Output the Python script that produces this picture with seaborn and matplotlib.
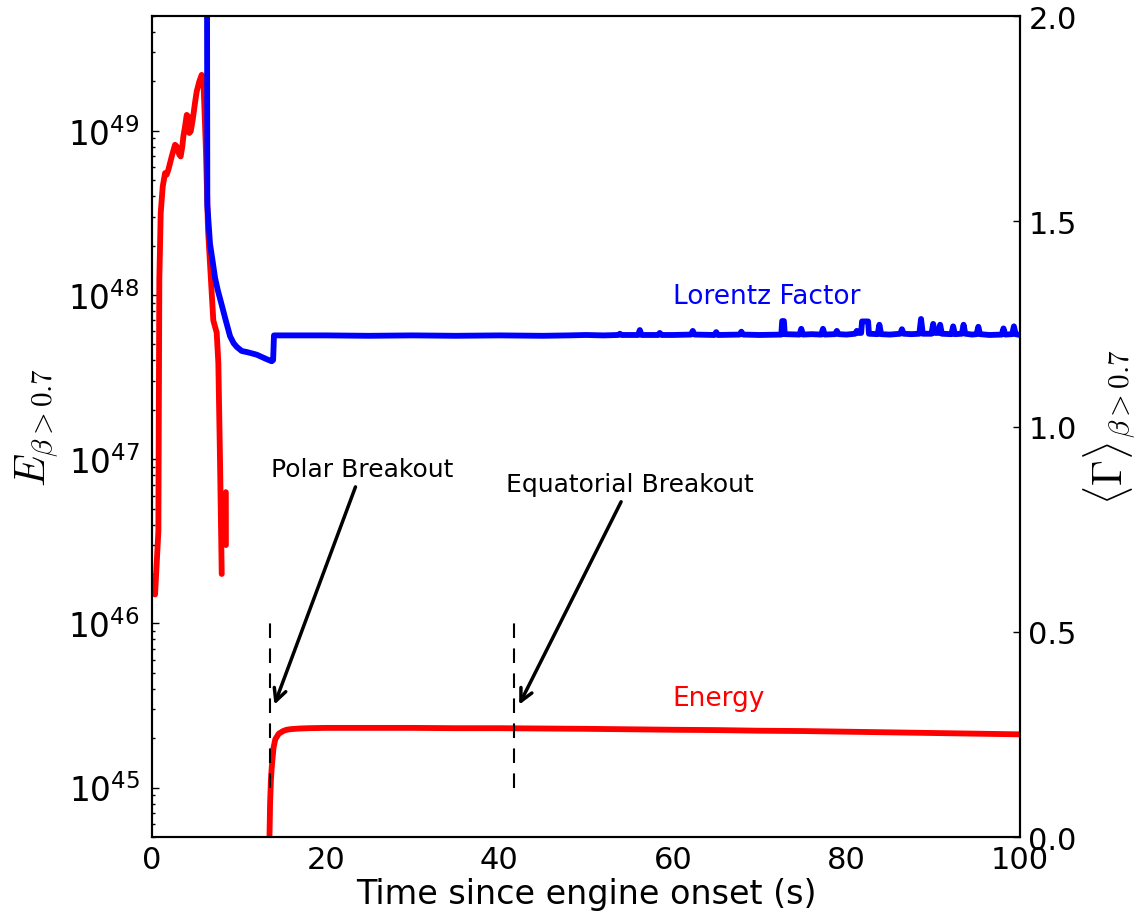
import seaborn as sns
import matplotlib.pyplot as plt

# energy in material with beta > 0.7 (erg), first burst from the engine
t_burst = [0.35, 0.73, 0.84, 1.00, 1.23, 1.50, 1.69, 1.88, 2.27, 2.65, 2.84, 3.14,
           3.30, 3.49, 3.61, 3.80, 4.00, 4.18, 4.30, 4.46, 4.69, 4.95, 5.15, 5.45,
           5.72, 5.91, 6.20, 6.45, 6.68, 7.06, 7.45, 7.64, 7.83, 8.03]
e_burst = [1.50e46, 3.63e46, 1.24e48, 3.16e48, 4.57e48, 5.53e48, 5.41e48, 5.79e48,
           6.98e48, 8.22e48, 8.04e48, 7.16e48, 6.98e48, 8.04e48, 9.25e48, 1.06e49,
           1.25e49, 1.22e49, 9.70e48, 9.93e48, 1.17e49, 1.48e49, 1.74e49, 2.00e49,
           2.19e49, 2.09e49, 7.9e48, 2.51e48, 1.55e48, 7.0e47, 5.9e47, 3.85e47,
           1.0e47, 2.0e46]

# short leftover piece
t_blip = [8.5, 8.51]
e_blip = [6.3e46, 3.0e46]

# energy after breakout
t_late = [13.5, 13.6, 13.7, 13.8, 14.0, 14.2, 14.6, 15.1, 15.5, 16, 17, 18, 20, 25,
          30, 35, 40, 45, 50, 55, 60, 65, 70, 75, 80, 85, 90, 95, 100]
e_late = [4.0e44, 8.0e44, 1.12e45, 1.35e45, 1.75e45, 1.97e45, 2.13e45, 2.21e45,
          2.25e45, 2.27e45, 2.29e45, 2.30e45, 2.31e45, 2.31e45, 2.31e45, 2.30e45,
          2.30e45, 2.29e45, 2.28e45, 2.265e45, 2.25e45, 2.24e45, 2.22e45, 2.21e45,
          2.19e45, 2.17e45, 2.15e45, 2.13e45, 2.11e45]

# mean Lorentz factor of beta > 0.7 material
t_gamma = [6.30, 6.37, 6.5, 6.68, 7.0, 7.26, 7.6, 8.03, 8.5, 8.99, 9.4, 9.76, 10.33,
           11.0, 12.06, 13.21, 13.79, 13.95, 14.05, 16, 20, 25, 30, 35, 40, 45, 48,
           50, 52, 53.7, 53.9, 54.1, 56.0, 56.2, 56.4, 58.3, 58.5, 58.7, 60, 62.1,
           62.3, 62.5, 64.8, 65.0, 65.2, 67.7, 67.9, 68.1, 70, 72.5, 72.6, 72.8,
           72.9, 74.6, 74.8, 75.0, 76, 77.1, 77.3, 77.5, 78.7, 78.9, 79.1, 80, 81.0,
           81.2, 81.4, 81.7, 81.8, 82.5, 82.6, 83.6, 83.8, 84.0, 85, 86.2, 86.4,
           86.6, 87.5, 88.4, 88.6, 88.8, 89.8, 90.0, 90.2, 90.6, 90.8, 91.0, 92.1,
           92.3, 92.5, 93.3, 93.5, 93.7, 94.5, 95.0, 95.2, 95.4, 96.5, 97.9, 98.1,
           98.3, 99.1, 99.3, 99.5, 100]
gamma = [2.6, 1.54, 1.50, 1.445, 1.40, 1.362, 1.33, 1.296, 1.258, 1.220, 1.203, 1.194,
         1.184, 1.181, 1.175, 1.164, 1.159, 1.162, 1.222, 1.222, 1.222, 1.221, 1.222,
         1.221, 1.222, 1.221, 1.222, 1.223, 1.222, 1.223, 1.226, 1.223, 1.223, 1.235,
         1.223, 1.223, 1.228, 1.223, 1.223, 1.224, 1.233, 1.224, 1.223, 1.230, 1.223,
         1.224, 1.231, 1.224, 1.223, 1.224, 1.257, 1.257, 1.225, 1.224, 1.238, 1.224,
         1.225, 1.224, 1.238, 1.224, 1.225, 1.233, 1.225, 1.224, 1.226, 1.233, 1.228,
         1.228, 1.256, 1.256, 1.226, 1.225, 1.248, 1.225, 1.224, 1.226, 1.237, 1.226,
         1.225, 1.226, 1.262, 1.226, 1.226, 1.250, 1.228, 1.228, 1.248, 1.226, 1.225,
         1.244, 1.225, 1.226, 1.248, 1.226, 1.224, 1.225, 1.243, 1.225, 1.223, 1.224,
         1.239, 1.224, 1.225, 1.244, 1.225, 1.223]

# breakout times (s) and the dashed marker range
breakout_t = [13.6, 41.7]
marker_lo, marker_hi = 1e45, 1e46

sns.set_style("white")
plt.rcParams.update({
    "font.family": ["DejaVu Sans"],
    "mathtext.fontset": "cm",
    "text.color": "black",
    "axes.labelcolor": "black",
    "axes.edgecolor": "black",
    "axes.linewidth": 1.5,
    "xtick.direction": "in",
    "ytick.direction": "in",
    "xtick.major.size": 5,
    "ytick.major.size": 5,
    "ytick.minor.size": 2.5,
    "xtick.major.width": 1,
    "ytick.major.width": 1,
    "ytick.minor.width": 1,
    "xtick.color": "black",
    "ytick.color": "black",
})

fig = plt.figure(figsize=(11.38, 9.2), dpi=100)
ax = fig.add_axes([0.1336, 0.0891, 0.7627, 0.8924])
ax.set_yscale("log")

sns.lineplot(x=t_burst, y=e_burst, ax=ax, color="r", lw=4.2, estimator=None, sort=False)
sns.lineplot(x=t_blip, y=e_blip, ax=ax, color="r", lw=4.2, estimator=None, sort=False)
sns.lineplot(x=t_late, y=e_late, ax=ax, color="r", lw=4.2, estimator=None, sort=False)
ax.vlines(breakout_t, marker_lo, marker_hi, colors="k", linestyles=(0, (7, 5)), lw=1.5)

ax.set_xlim(0, 100)
ax.set_ylim(5e44, 5e49)
ax.set_xticks([0, 20, 40, 60, 80, 100])
ax.tick_params(axis="x", labelsize=22, pad=6)
ax.tick_params(axis="y", which="major", labelsize=23.5, pad=9)
ax.set_xlabel("Time since engine onset (s)", fontsize=24, labelpad=2)
ax.set_ylabel(r"$E_{\beta>0.7}$", fontsize=30, labelpad=5)

ax.annotate("Polar Breakout", xy=(14.1, 3.2e45), xytext=(13.7, 7.9e46),
            fontsize=18, color="k",
            arrowprops=dict(arrowstyle="->", lw=2.5, color="k",
                            mutation_scale=22, shrinkB=0))
ax.annotate("Equatorial Breakout", xy=(42.3, 3.2e45), xytext=(40.8, 6.4e46),
            fontsize=18, color="k",
            arrowprops=dict(arrowstyle="->", lw=2.5, color="k",
                            mutation_scale=22, shrinkB=0))
ax.text(60, 3.2e45, "Energy", color="r", fontsize=19)

ax2 = ax.twinx()
sns.lineplot(x=t_gamma, y=gamma, ax=ax2, color="b", lw=4.2, estimator=None, sort=False)
ax2.set_ylim(0, 2)
ax2.set_yticks([0, 0.5, 1.0, 1.5, 2.0])
ax2.tick_params(axis="y", labelsize=22, pad=6)
ax2.set_ylabel(r"$\langle\Gamma\rangle_{\beta>0.7}$", fontsize=30, labelpad=4)
ax2.text(60, 1.3, "Lorentz Factor", color="b", fontsize=19)
ax2.set_xlim(0, 100)

fig.savefig("out.png", dpi=100)
